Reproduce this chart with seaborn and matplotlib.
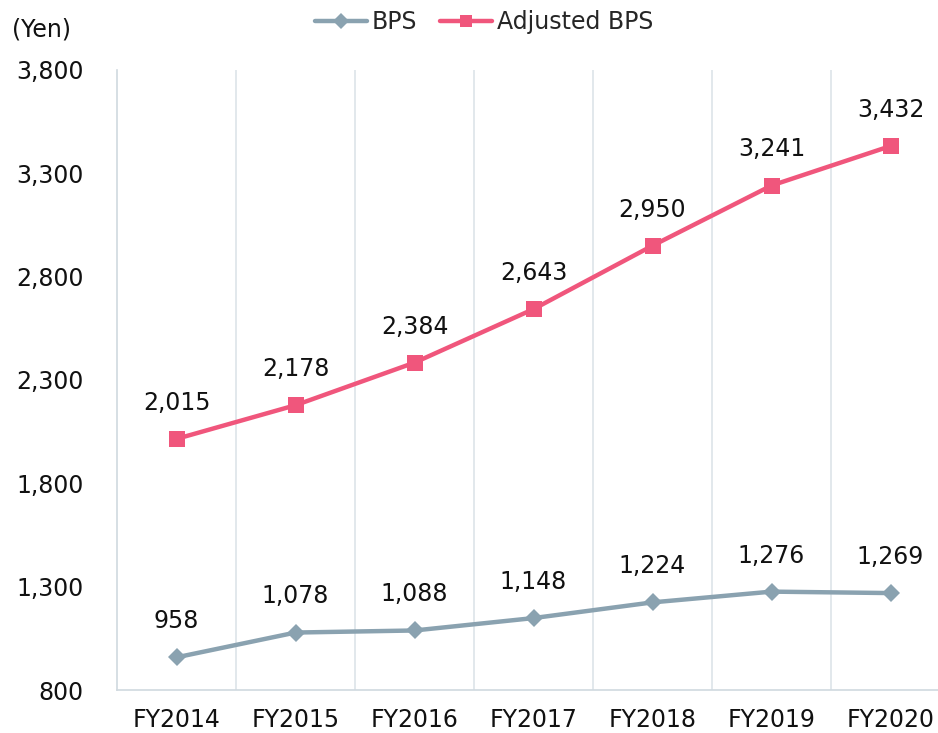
import matplotlib
matplotlib.use("Agg")
import matplotlib.pyplot as plt
import pandas as pd
import seaborn as sns

YEARS = ["FY2014", "FY2015", "FY2016", "FY2017", "FY2018", "FY2019", "FY2020"]
BPS = [958, 1078, 1088, 1148, 1224, 1276, 1269]
ADJ_BPS = [2015, 2178, 2384, 2643, 2950, 3241, 3432]
Y_TICKS = [800, 1300, 1800, 2300, 2800, 3300, 3800]

COLORS = {"BPS": "#8aa2b0", "Adjusted BPS": "#f0567c"}
MARKERS = {"BPS": "D", "Adjusted BPS": "s"}
FS = 17


def build_dataframe():
    df = pd.DataFrame({"year": YEARS, "BPS": BPS, "Adjusted BPS": ADJ_BPS})
    df["x"] = range(len(YEARS))
    return df.melt(id_vars=["year", "x"], var_name="series", value_name="value")


def main():
    sns.set_theme(style="white")
    plt.rcParams["font.family"] = ["DejaVu Sans"]

    df = build_dataframe()

    fig = plt.figure(figsize=(9.38, 7.33), dpi=100)
    ax = fig.add_axes([117 / 938, 1 - 690 / 733, 821 / 938, 620 / 733])

    sns.lineplot(
        data=df, x="x", y="value", hue="series", style="series",
        palette=COLORS, markers=MARKERS, dashes=False,
        linewidth=3.2, markersize=9.5, markeredgewidth=0,
        hue_order=["BPS", "Adjusted BPS"], style_order=["BPS", "Adjusted BPS"],
        ax=ax, legend=False)
    # square markers a little larger than the diamonds
    for line in ax.lines:
        if line.get_marker() == "s":
            line.set_markersize(11)

    # value labels
    for _, row in df.iterrows():
        ax.annotate(f"{row['value']:,}", (row["x"], row["value"]),
                    xytext=(0, 26), textcoords="offset points",
                    ha="center", va="center", fontsize=FS, color="#111111")

    ax.set_xlim(-0.5, -0.5 + 821 / 119)
    ax.set_ylim(800, 3800)
    ax.set_xticks(range(len(YEARS)))
    ax.set_xticklabels(YEARS)
    ax.set_yticks(Y_TICKS)
    ax.set_yticklabels([f"{v:,}" for v in Y_TICKS])
    ax.set_xticks([i + 0.5 for i in range(len(YEARS) - 1)], minor=True)
    ax.tick_params(axis="both", which="both", length=0, labelsize=FS,
                   colors="#111111")
    ax.tick_params(axis="x", pad=13)
    ax.tick_params(axis="y", pad=24)
    ax.grid(False)
    ax.grid(which="minor", axis="x", color="#dde4e9", linewidth=1.2)
    ax.set_xlabel("")
    ax.set_ylabel("")

    for side in ["top", "right"]:
        ax.spines[side].set_visible(False)
    for side in ["bottom", "left"]:
        ax.spines[side].set_color("#d0d9df")
        ax.spines[side].set_linewidth(1.2)

    # legend
    handles = [plt.Line2D([], [], color=COLORS[s], marker=MARKERS[s],
                          markersize=8 if s == "BPS" else 9, linewidth=3.2,
                          markeredgewidth=0)
               for s in ["BPS", "Adjusted BPS"]]
    fig.legend(handles, ["BPS", "Adjusted BPS"], loc="center",
               bbox_to_anchor=(484 / 938, 1 - 22 / 733), ncol=2,
               frameon=False, fontsize=FS, handlelength=2.2,
               handletextpad=0.2, columnspacing=1.0)

    fig.text(12 / 938, 1 - 30 / 733, "(Yen)", ha="left", va="center",
             fontsize=FS, color="#111111")

    fig.savefig("out.png", dpi=100)


if __name__ == "__main__":
    main()
